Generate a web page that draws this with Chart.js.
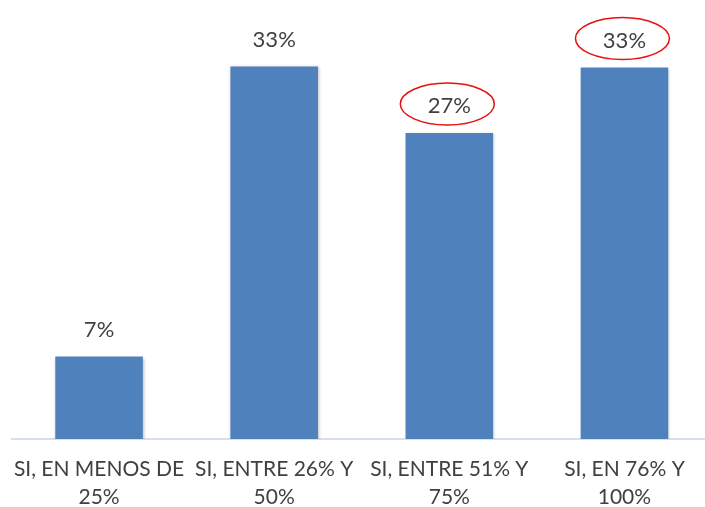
<!DOCTYPE html>
<html>
<head>
<meta charset="utf-8">
<script src="https://cdn.jsdelivr.net/npm/chart.js@4.4.1/dist/chart.umd.min.js"></script>
<style>
  html, body { margin: 0; padding: 0; background: #fff; overflow: hidden; }
  #wrap { width: 712px; height: 519px; position: relative; }
</style>
</head>
<body>
<div id="wrap"><canvas id="myChart"></canvas></div>
<script>
// categories and values
const categories = [
  ["SI, EN MENOS DE", "25%"],
  ["SI, ENTRE 26% Y", "50%"],
  ["SI, ENTRE 51% Y", "75%"],
  ["SI, EN 76% Y", "100%"],
];
const values = [7.3, 33, 27.1, 32.9];
const valueLabels = ["7%", "33%", "27%", "33%"];
const circled = [false, false, true, true]; // red ellipses drawn round these labels

const textColor = "#404040";

// labels on top of bars + the red ellipses
const barLabels = {
  id: "barLabels",
  beforeDatasetDraw(chart) {
    const ctx = chart.ctx;
    ctx.save();
    ctx.shadowColor = "rgba(0,0,0,0.25)";
    ctx.shadowBlur = 3;
    ctx.shadowOffsetX = 1;
    ctx.shadowOffsetY = 1;
  },
  afterDatasetDraw(chart) {
    chart.ctx.restore();
  },
  afterDatasetsDraw(chart) {
    const ctx = chart.ctx;
    const meta = chart.getDatasetMeta(0);
    ctx.save();
    ctx.font = "22px Lato";
    ctx.fillStyle = textColor;
    ctx.textAlign = "center";
    ctx.textBaseline = "middle";
    meta.data.forEach((bar, i) => {
      const x = bar.x;
      const y = bar.y - 27;
      ctx.fillText(valueLabels[i], x, y);
      if (circled[i]) {
        ctx.beginPath();
        ctx.ellipse(x - 2, y - 2, 47, 21, 0, 0, Math.PI * 2);
        ctx.strokeStyle = "#e81010";
        ctx.lineWidth = 1.5;
        ctx.stroke();
      }
    });
    ctx.restore();
  },
};

new Chart(document.getElementById("myChart"), {
  type: "bar",
  data: {
    labels: categories,
    datasets: [
      {
        data: values,
        backgroundColor: "#4f81bd",
        barPercentage: 0.5,
        categoryPercentage: 1,
      },
    ],
  },
  options: {
    responsive: true,
    maintainAspectRatio: false,
    animation: false,
    layout: { padding: { left: 11.5, top: 10, right: 0, bottom: 0 } },
    plugins: { legend: { display: false }, tooltip: { enabled: false } },
    scales: {
      x: {
        grid: { display: false },
        border: { display: true, color: "#d6dfec", width: 2 },
        ticks: {
          color: textColor,
          padding: 8,
          font: { family: "Lato", size: 21, lineHeight: "28px" },
          maxRotation: 0,
        },
      },
      y: {
        display: false,
        min: 0,
        max: 38,
      },
    },
  },
  plugins: [barLabels],
});
</script>
</body>
</html>
